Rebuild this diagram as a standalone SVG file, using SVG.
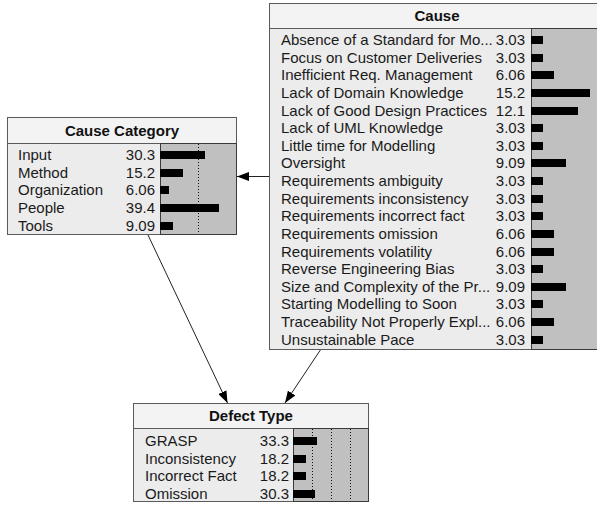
<svg xmlns="http://www.w3.org/2000/svg" width="597" height="505" viewBox="0 0 597 505">
  <style>
    .title { fill: #f3f3f3; stroke: #5a5a5a; stroke-width: 1; }
    .body { fill: #ececec; stroke: #5a5a5a; stroke-width: 1; }
    .plot { fill: #c0c0c0; stroke: #3a3a3a; stroke-width: 1; }
    .grid { stroke: #111; stroke-width: 1; stroke-dasharray: 1 2; }
    .bar { fill: #000; }
    text { font-family: "Liberation Sans", Arial, sans-serif; font-size: 15px; fill: #1a1a1a; }
    .head { font-weight: bold; text-anchor: middle; fill: #111; }
    .val { text-anchor: end; }
    .edge { stroke: #222; stroke-width: 1; fill: none; marker-end: url(#arrow); }
  </style>
  <defs>
    <marker id="arrow" markerUnits="userSpaceOnUse" markerWidth="12" markerHeight="9" refX="12" refY="4.5" orient="auto">
      <path d="M0,0 L12,4.5 L0,9 Z" fill="#000"/>
    </marker>
  </defs>
  <rect width="597" height="505" fill="#fff"/>

  <!-- links between the nodes -->
  <g id="connectors">
    <line class="edge" x1="269" y1="176.5" x2="237" y2="176.5"/>
    <line class="edge" x1="148" y1="235" x2="227.5" y2="403"/>
    <line class="edge" x1="321" y1="349" x2="285" y2="403"/>
  </g>

  <!-- Cause Category -->
  <g id="cause-category">
    <rect class="title" x="7.5" y="117.5" width="229" height="26"/>
    <rect class="body" x="7.5" y="143.5" width="229" height="91"/>
    <rect class="plot" x="160.5" y="143.5" width="76" height="91"/>
    <line class="grid" x1="198.5" y1="144" x2="198.5" y2="234"/>
    <text class="head" x="122" y="136">Cause Category</text>
    <text x="18" y="160">Input</text><text class="val" x="155" y="160">30.3</text><rect class="bar" x="160" y="151" width="45" height="8"/>
    <text x="18" y="178">Method</text><text class="val" x="155" y="178">15.2</text><rect class="bar" x="160" y="169" width="23" height="8"/>
    <text x="18" y="195">Organization</text><text class="val" x="155" y="195">6.06</text><rect class="bar" x="160" y="186" width="9" height="8"/>
    <text x="18" y="213">People</text><text class="val" x="155" y="213">39.4</text><rect class="bar" x="160" y="204" width="59" height="8"/>
    <text x="18" y="231">Tools</text><text class="val" x="155" y="231">9.09</text><rect class="bar" x="160" y="222" width="13" height="8"/>
  </g>

  <!-- Cause -->
  <g id="cause">
    <rect class="title" x="269.5" y="3.5" width="336" height="25"/>
    <rect class="body" x="269.5" y="28.5" width="336" height="321"/>
    <rect class="plot" x="531.5" y="28.5" width="74" height="321"/>
    <text class="head" x="437" y="20.5">Cause</text>
    <text x="281" y="45">Absence of a Standard for Mo...</text><text class="val" x="525" y="45">3.03</text><rect class="bar" x="531" y="36" width="12" height="8"/>
    <text x="281" y="63">Focus on Customer Deliveries</text><text class="val" x="525" y="63">3.03</text><rect class="bar" x="531" y="54" width="12" height="8"/>
    <text x="281" y="80">Inefficient Req. Management</text><text class="val" x="525" y="80">6.06</text><rect class="bar" x="531" y="71" width="23" height="8"/>
    <text x="281" y="98">Lack of Domain Knowledge</text><text class="val" x="525" y="98">15.2</text><rect class="bar" x="531" y="89" width="59" height="8"/>
    <text x="281" y="116">Lack of Good Design Practices</text><text class="val" x="525" y="116">12.1</text><rect class="bar" x="531" y="107" width="47" height="8"/>
    <text x="281" y="133">Lack of UML Knowledge</text><text class="val" x="525" y="133">3.03</text><rect class="bar" x="531" y="124" width="12" height="8"/>
    <text x="281" y="151">Little time for Modelling</text><text class="val" x="525" y="151">3.03</text><rect class="bar" x="531" y="142" width="12" height="8"/>
    <text x="281" y="168">Oversight</text><text class="val" x="525" y="168">9.09</text><rect class="bar" x="531" y="159" width="35" height="8"/>
    <text x="281" y="186">Requirements ambiguity</text><text class="val" x="525" y="186">3.03</text><rect class="bar" x="531" y="177" width="12" height="8"/>
    <text x="281" y="204">Requirements inconsistency</text><text class="val" x="525" y="204">3.03</text><rect class="bar" x="531" y="195" width="12" height="8"/>
    <text x="281" y="221">Requirements incorrect fact</text><text class="val" x="525" y="221">3.03</text><rect class="bar" x="531" y="212" width="12" height="8"/>
    <text x="281" y="239">Requirements omission</text><text class="val" x="525" y="239">6.06</text><rect class="bar" x="531" y="230" width="23" height="8"/>
    <text x="281" y="257">Requirements volatility</text><text class="val" x="525" y="257">6.06</text><rect class="bar" x="531" y="248" width="23" height="8"/>
    <text x="281" y="274">Reverse Engineering Bias</text><text class="val" x="525" y="274">3.03</text><rect class="bar" x="531" y="265" width="12" height="8"/>
    <text x="281" y="292">Size and Complexity of the Pr...</text><text class="val" x="525" y="292">9.09</text><rect class="bar" x="531" y="283" width="35" height="8"/>
    <text x="281" y="309">Starting Modelling to Soon</text><text class="val" x="525" y="309">3.03</text><rect class="bar" x="531" y="300" width="12" height="8"/>
    <text x="281" y="327">Traceability Not Properly Expl...</text><text class="val" x="525" y="327">6.06</text><rect class="bar" x="531" y="318" width="23" height="8"/>
    <text x="281" y="345">Unsustainable Pace</text><text class="val" x="525" y="345">3.03</text><rect class="bar" x="531" y="336" width="12" height="8"/>
  </g>

  <!-- Defect Type -->
  <g id="defect-type">
    <rect class="title" x="133.5" y="403.5" width="235" height="25"/>
    <rect class="body" x="133.5" y="428.5" width="235" height="73"/>
    <rect class="plot" x="293.5" y="428.5" width="75" height="73"/>
    <line class="grid" x1="312.5" y1="429" x2="312.5" y2="501"/>
    <line class="grid" x1="331.5" y1="429" x2="331.5" y2="501"/>
    <line class="grid" x1="350.5" y1="429" x2="350.5" y2="501"/>
    <text class="head" x="251" y="421">Defect Type</text>
    <text x="145" y="446">GRASP</text><text class="val" x="289" y="446">33.3</text><rect class="bar" x="293" y="437" width="24" height="8"/>
    <text x="145" y="464">Inconsistency</text><text class="val" x="289" y="464">18.2</text><rect class="bar" x="293" y="455" width="13" height="8"/>
    <text x="145" y="481">Incorrect Fact</text><text class="val" x="289" y="481">18.2</text><rect class="bar" x="293" y="472" width="13" height="8"/>
    <text x="145" y="499">Omission</text><text class="val" x="289" y="499">30.3</text><rect class="bar" x="293" y="490" width="22" height="8"/>
  </g>
</svg>
